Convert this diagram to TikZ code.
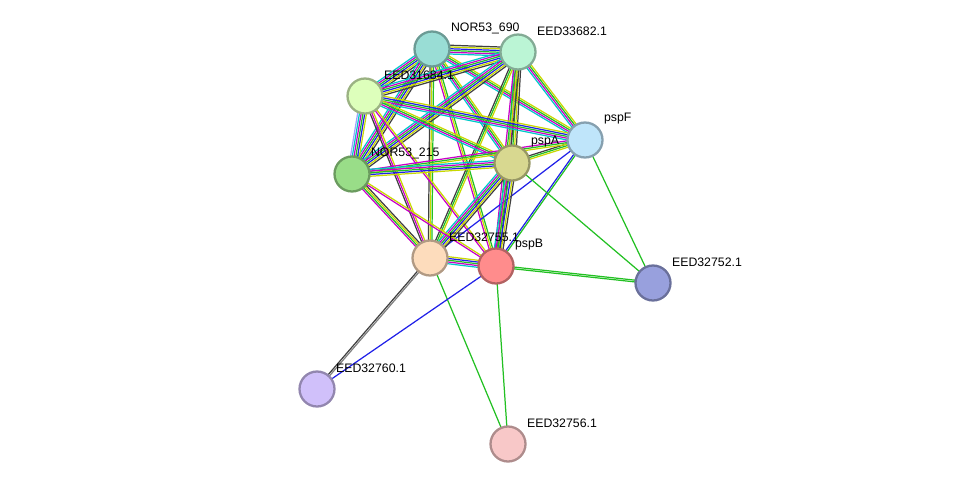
\documentclass[tikz,border=0pt]{standalone}
\usepackage{fontspec}
\setmainfont{Liberation Sans}
\usetikzlibrary{
  calc,         % offsets of the parallel lines
}
\definecolor{ecyan}{HTML}{00C8C8}
\definecolor{emag}{HTML}{C800C8}
\definecolor{egreen}{HTML}{22C022}
\definecolor{eblue}{HTML}{2020E8}
\definecolor{eyel}{HTML}{C8D800}
\definecolor{eblk}{HTML}{404040}
\definecolor{elblue}{HTML}{A0A0FF}
\tikzset{
  x=0.02cm,
  y=-0.02cm,
  prot/.style={
    circle,
    draw=#1!70!black,
    fill=#1,
    line width=1.3pt,
    minimum size=0.7cm,
    inner sep=0pt
  },
  lbl/.style={
    anchor=west,
    font=\fontsize{7}{8.5}\selectfont,
    inner sep=1pt
  },
  ln/.style={line width=0.7pt}
}
\definecolor{cteal}{HTML}{99DDD5}
\definecolor{cmint}{HTML}{BBF5D5}
\definecolor{clime}{HTML}{DDFFBB}
\definecolor{csky}{HTML}{BFE5FA}
\definecolor{colive}{HTML}{D8D890}
\definecolor{cgreen}{HTML}{99DD88}
\definecolor{cpeach}{HTML}{FDDCBC}
\definecolor{cred}{HTML}{FF8C8C}
\definecolor{cblue}{HTML}{98A0DD}
\definecolor{clav}{HTML}{D0C0FA}
\definecolor{cpink}{HTML}{F8C8C8}
\begin{document}
\begin{tikzpicture}
\useasboundingbox (0,0) rectangle (976,490);
% proteins
\coordinate (n690)  at (432,49);
\coordinate (n33682) at (518,52);
\coordinate (n31684) at (365,96);
\coordinate (pspF)  at (585,140);
\coordinate (pspA)  at (512,163);
\coordinate (n215)  at (352,174);
\coordinate (n32755) at (430,258);
\coordinate (pspB)  at (496,266);
\coordinate (n32752) at (653,283);
\coordinate (n32760) at (317,389);
\coordinate (n32756) at (508,444);
% edges: several parallel lines, one per evidence colour
\foreach \a/\b/\n/\cl in {
  n690/n33682/6/{ecyan,emag,egreen,eblue,eyel,eblk},
  n690/n31684/6/{ecyan,emag,egreen,eblue,eyel,eblk},
  n690/pspF/4/{ecyan,emag,egreen,eyel},
  n690/pspA/4/{ecyan,emag,egreen,eyel},
  n690/n215/6/{ecyan,emag,egreen,eblue,eyel,eblk},
  n690/n32755/3/{eblk,eyel,egreen},
  n690/pspB/3/{emag,eyel,egreen},
  n33682/n31684/6/{ecyan,emag,egreen,eblue,eyel,eblk},
  n33682/pspF/4/{ecyan,emag,egreen,eyel},
  n33682/pspA/5/{ecyan,emag,egreen,eyel,eblk},
  n33682/n215/6/{ecyan,emag,egreen,eblue,eyel,eblk},
  n33682/n32755/3/{eblk,egreen,eyel},
  n33682/pspB/4/{emag,egreen,eyel,eblk},
  n31684/pspF/5/{ecyan,emag,egreen,eblue,eyel},
  n31684/pspA/4/{ecyan,emag,egreen,eyel},
  n31684/n215/6/{elblue,ecyan,emag,egreen,eblue,eyel},
  n31684/n32755/3/{eblk,emag,eyel},
  n31684/pspB/2/{emag,eyel},
  pspF/pspA/3/{eblk,egreen,eyel},
  pspF/n215/3/{emag,egreen,eyel},
  pspF/n32755/1/{eblue},
  pspF/pspB/2/{eblue,egreen},
  pspA/n215/5/{ecyan,emag,egreen,eblue,eyel},
  pspA/n32755/6/{ecyan,emag,egreen,eblue,eyel,eblk},
  pspA/pspB/6/{ecyan,emag,egreen,eblue,eyel,eblk},
  n215/n32755/4/{emag,egreen,eyel,eblk},
  n215/pspB/2/{emag,eyel},
  n32755/pspB/5/{ecyan,emag,egreen,eblue,eyel},
  pspB/n32752/2/{egreen,egreen},
  pspA/n32752/1/{egreen},
  pspF/n32752/1/{egreen},
  pspB/n32756/1/{egreen},
  n32755/n32756/1/{egreen},
  n32755/n32760/2/{eblk,gray},
  pspB/n32760/1/{eblue}}{
  \foreach \c [count=\i] in \cl {
    \pgfmathsetmacro\o{(\i-(\n+1)/2)*1.0}
    \draw[ln,\c] ($(\a)!\o pt!90:(\b)$) -- ($(\b)!\o pt!-90:(\a)$);
  }
}
% nodes
\foreach \p/\c/\t in {
  n690/cteal/NOR53\_690,
  n33682/cmint/EED33682.1,
  n31684/clime/EED31684.1,
  pspF/csky/pspF,
  pspA/colive/pspA,
  n215/cgreen/NOR53\_215,
  n32755/cpeach/EED32755.1,
  pspB/cred/pspB,
  n32752/cblue/EED32752.1,
  n32760/clav/EED32760.1,
  n32756/cpink/EED32756.1}{
  \node[prot=\c] (\p-c) at (\p) {};
  \node[lbl] (\p-l) at ([shift={(17,-21)}]\p) {\t};
}
\end{tikzpicture}
\end{document}
